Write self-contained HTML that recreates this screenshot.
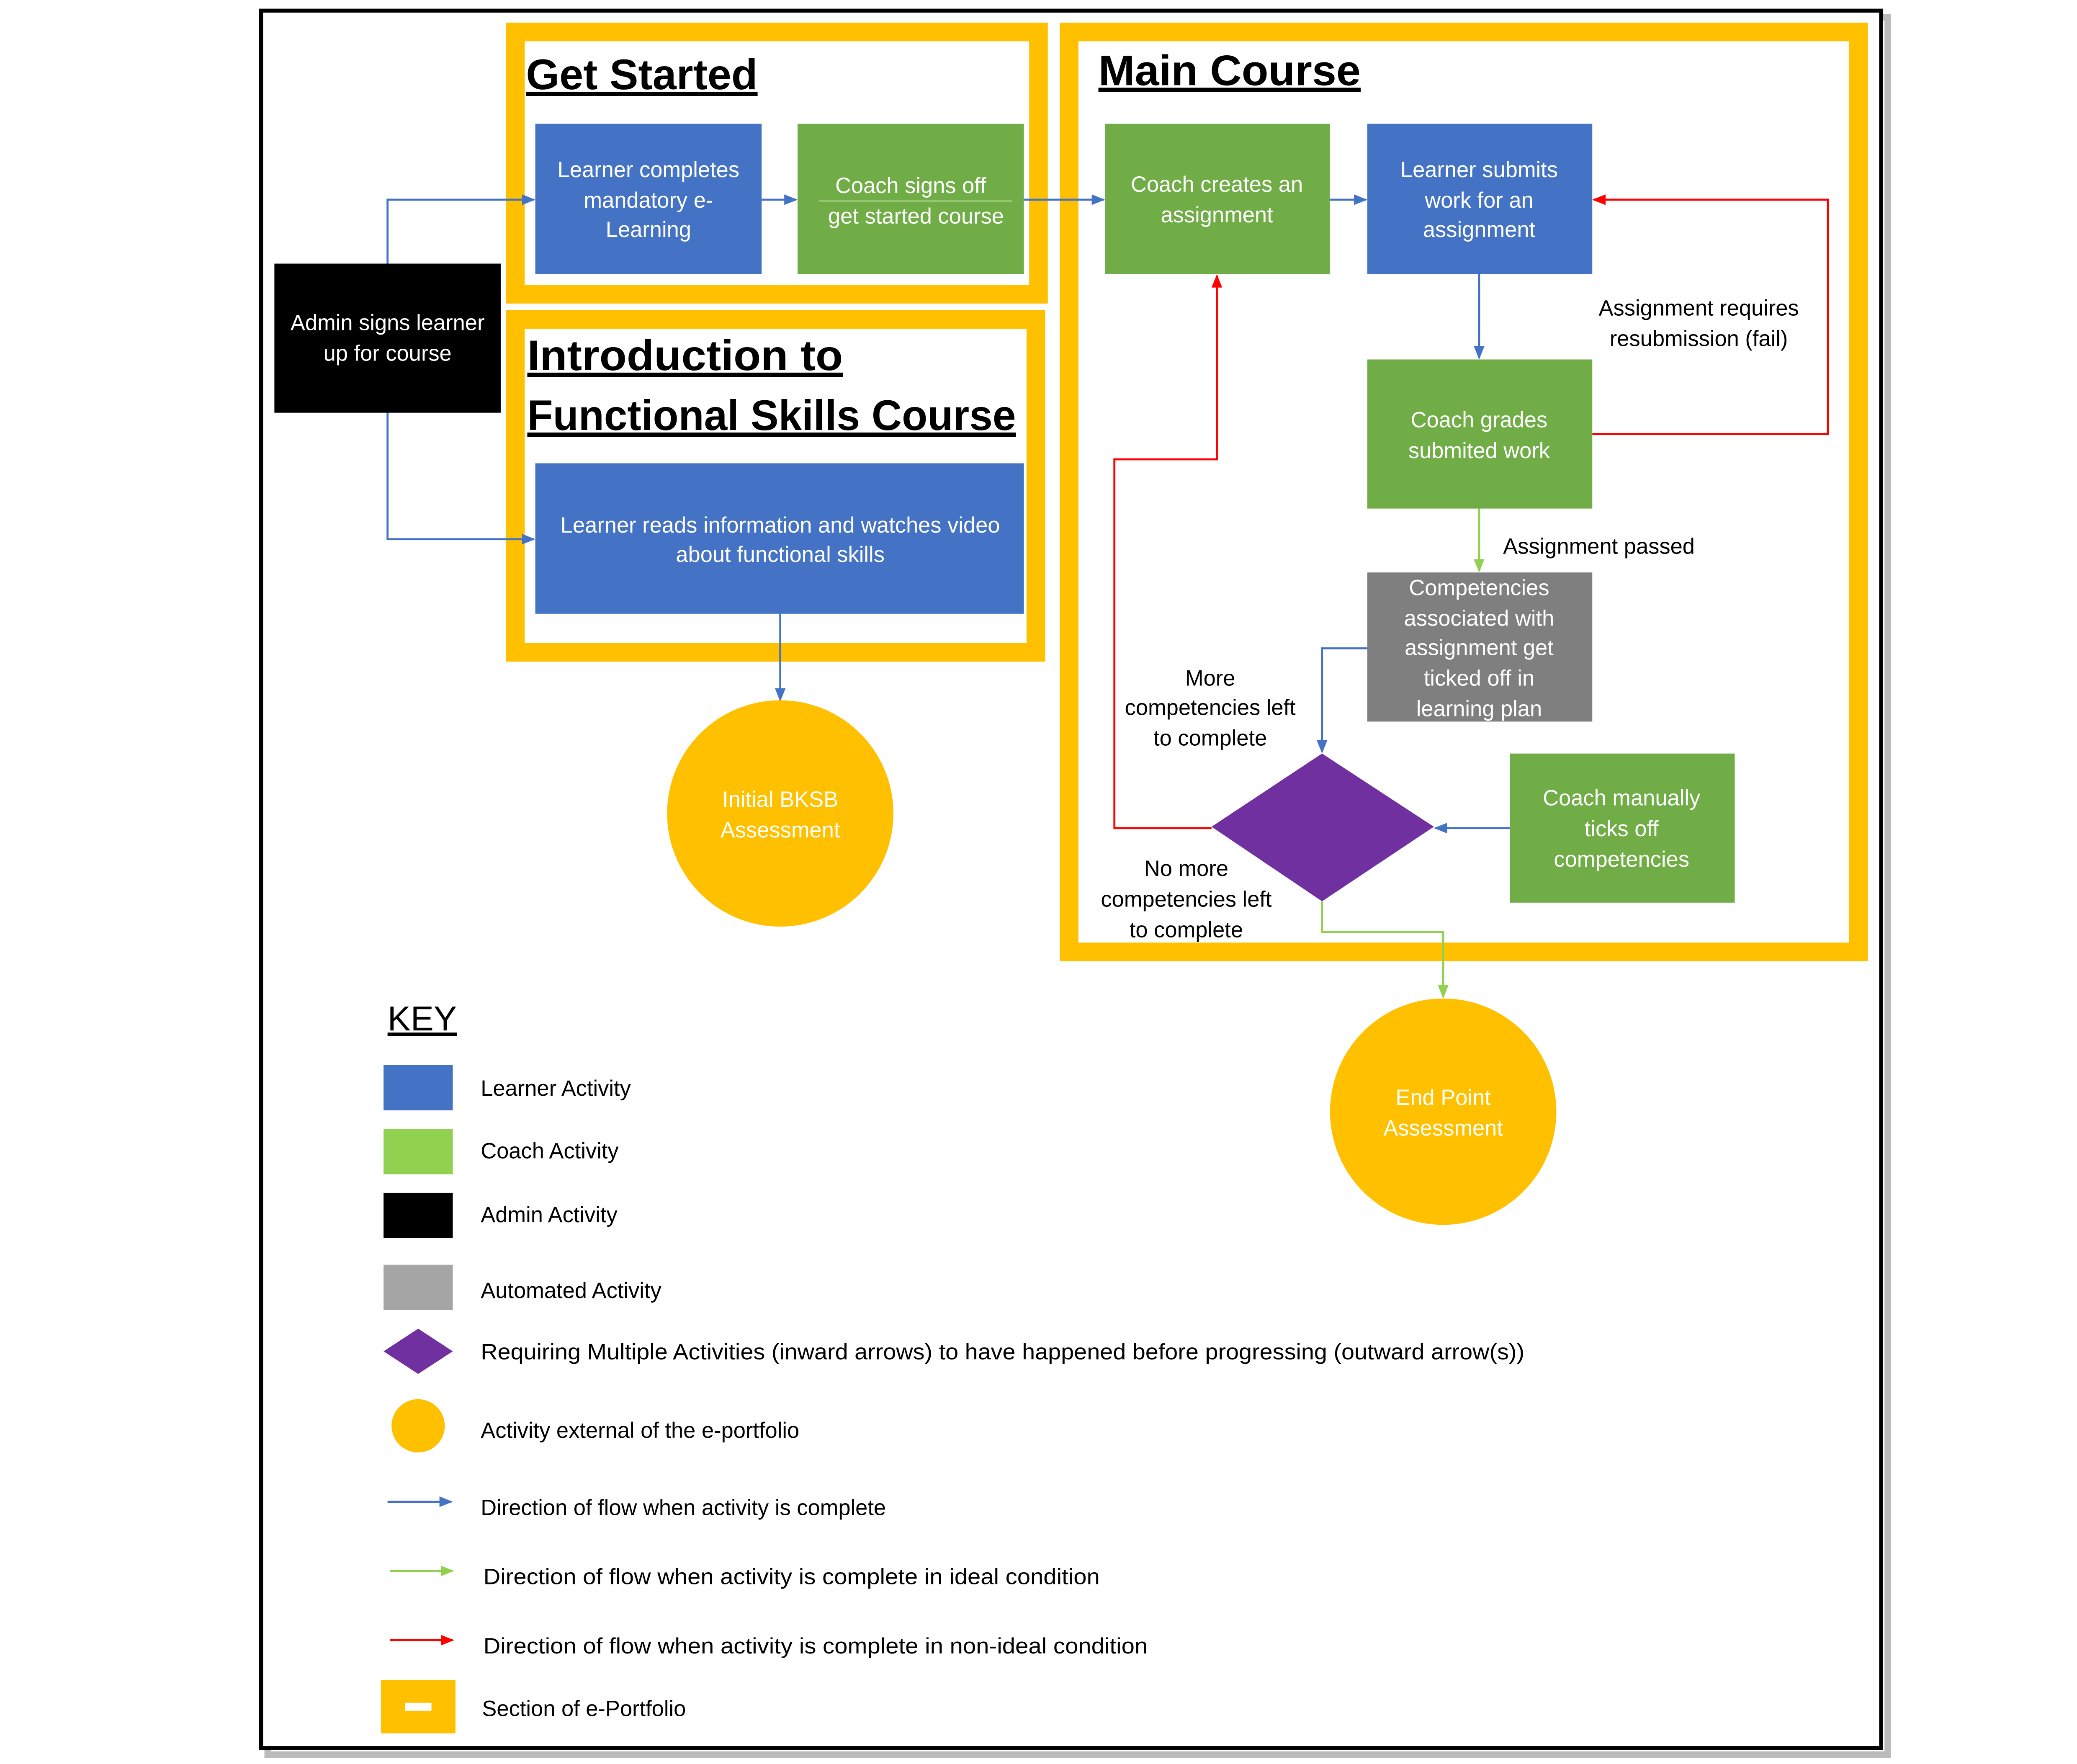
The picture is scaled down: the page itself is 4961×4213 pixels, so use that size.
<!DOCTYPE html>
<html><head><meta charset="utf-8"><style>
html,body{margin:0;padding:0;background:#fff;width:4961px;height:4213px;overflow:hidden}
svg{display:block}
text{font-family:"Liberation Sans",sans-serif}
.w{fill:#fff;font-size:16.5px}
.k{fill:#000;font-size:16.5px}
.t{fill:#000;font-size:32px;font-weight:bold;text-decoration:underline}
</style></head><body>
<svg width="4961" height="4213" viewBox="0 0 1560 1325" xmlns="http://www.w3.org/2000/svg">
<defs>
<marker id="ab" markerWidth="10" markerHeight="10" refX="9" refY="5" orient="auto" markerUnits="userSpaceOnUse"><path d="M0,1 L10,5 L0,9 z" fill="#4472C4"/></marker>
<marker id="ag" markerWidth="10" markerHeight="10" refX="9" refY="5" orient="auto" markerUnits="userSpaceOnUse"><path d="M0,1 L10,5 L0,9 z" fill="#92D050"/></marker>
<marker id="ar" markerWidth="10" markerHeight="10" refX="9" refY="5" orient="auto" markerUnits="userSpaceOnUse"><path d="M0,1 L10,5 L0,9 z" fill="#FF0000"/></marker>
</defs>
<rect width="1560" height="1325" fill="#fff"/>
<rect x="201" y="13" width="1217" height="1305" fill="none" stroke="#bbb" stroke-width="5"/>
<rect x="196" y="8" width="1217" height="1305" fill="#fff" stroke="#000" stroke-width="3"/>
<rect x="387" y="24" width="393" height="197" fill="#fff" stroke="#FFC000" stroke-width="14"/>
<rect x="387" y="240" width="391" height="250" fill="#fff" stroke="#FFC000" stroke-width="14"/>
<rect x="803" y="24" width="593" height="691" fill="#fff" stroke="#FFC000" stroke-width="14"/>
<text x="395" y="67" class="t" textLength="174" lengthAdjust="spacingAndGlyphs">Get Started</text>
<text x="825" y="64" class="t" textLength="197" lengthAdjust="spacingAndGlyphs">Main Course</text>
<text x="396" y="278" class="t" textLength="237" lengthAdjust="spacingAndGlyphs">Introduction to</text>
<text x="396" y="323" class="t" textLength="367" lengthAdjust="spacingAndGlyphs">Functional Skills Course</text>
<g fill="none" stroke-width="1.5">
<path d="M291,198 V150 H401" stroke="#4472C4" marker-end="url(#ab)"/>
<path d="M291,310 V405 H401" stroke="#4472C4" marker-end="url(#ab)"/>
<path d="M572,150 H598" stroke="#4472C4" marker-end="url(#ab)"/>
<path d="M769,150 H829" stroke="#4472C4" marker-end="url(#ab)"/>
<path d="M999,150 H1026" stroke="#4472C4" marker-end="url(#ab)"/>
<path d="M1111,206 V269" stroke="#4472C4" marker-end="url(#ab)"/>
<path d="M1196,326 H1373 V150 H1197" stroke="#FF0000" marker-end="url(#ar)"/>
<path d="M1111,382 V429" stroke="#92D050" marker-end="url(#ag)"/>
<path d="M1027,487 H993 V565" stroke="#4472C4" marker-end="url(#ab)"/>
<path d="M1134,622 H1078" stroke="#4472C4" marker-end="url(#ab)"/>
<path d="M910,622 H837 V345 H914 V207" stroke="#FF0000" marker-end="url(#ar)"/>
<path d="M993,677 V700 H1084 V749" stroke="#92D050" marker-end="url(#ag)"/>
<path d="M586,461 V526" stroke="#4472C4" marker-end="url(#ab)"/>
</g>
<rect x="402" y="93" width="170" height="113" fill="#4472C4"/>
<text class="w" text-anchor="middle"><tspan x="487" y="133">Learner completes</tspan><tspan x="487" y="156">mandatory e-</tspan><tspan x="487" y="178">Learning</tspan></text>
<rect x="599" y="93" width="170" height="113" fill="#70AD47"/>
<text class="w" text-anchor="middle"><tspan x="684" y="145">Coach signs off</tspan><tspan x="688" y="168">get started course</tspan></text>
<line x1="615" y1="151" x2="760" y2="151" stroke="#9fd07f" stroke-width="1"/>
<rect x="206" y="198" width="170" height="112" fill="#000"/>
<text class="w" text-anchor="middle"><tspan x="291" y="248">Admin signs learner</tspan><tspan x="291" y="271">up for course</tspan></text>
<rect x="402" y="348" width="367" height="113" fill="#4472C4"/>
<text class="w" text-anchor="middle"><tspan x="586" y="400">Learner reads information and watches video</tspan><tspan x="586" y="422">about functional skills</tspan></text>
<rect x="830" y="93" width="169" height="113" fill="#70AD47"/>
<text class="w" text-anchor="middle"><tspan x="914" y="144">Coach creates an</tspan><tspan x="914" y="167">assignment</tspan></text>
<rect x="1027" y="93" width="169" height="113" fill="#4472C4"/>
<text class="w" text-anchor="middle"><tspan x="1111" y="133">Learner submits</tspan><tspan x="1111" y="156">work for an</tspan><tspan x="1111" y="178">assignment</tspan></text>
<rect x="1027" y="270" width="169" height="112" fill="#70AD47"/>
<text class="w" text-anchor="middle"><tspan x="1111" y="321">Coach grades</tspan><tspan x="1111" y="344">submited work</tspan></text>
<rect x="1027" y="430" width="169" height="112" fill="#7F7F7F"/>
<text class="w" text-anchor="middle"><tspan x="1111" y="447">Competencies</tspan><tspan x="1111" y="470">associated with</tspan><tspan x="1111" y="492">assignment get</tspan><tspan x="1111" y="515">ticked off in</tspan><tspan x="1111" y="538">learning plan</tspan></text>
<polygon points="910,621 993,566 1077,621 993,677" fill="#7030A0"/>
<rect x="1134" y="566" width="169" height="112" fill="#70AD47"/>
<text class="w" text-anchor="middle"><tspan x="1218" y="605">Coach manually</tspan><tspan x="1218" y="628">ticks off</tspan><tspan x="1218" y="651">competencies</tspan></text>
<circle cx="586" cy="611" r="85" fill="#FFC000"/>
<text class="w" text-anchor="middle"><tspan x="586" y="606">Initial BKSB</tspan><tspan x="586" y="629">Assessment</tspan></text>
<circle cx="1084" cy="835" r="85" fill="#FFC000"/>
<text class="w" text-anchor="middle"><tspan x="1084" y="830">End Point</tspan><tspan x="1084" y="853">Assessment</tspan></text>
<text class="k" text-anchor="middle"><tspan x="1276" y="237">Assignment requires</tspan><tspan x="1276" y="260">resubmission (fail)</tspan></text>
<text class="k" x="1129" y="416">Assignment passed</text>
<text class="k" text-anchor="middle"><tspan x="909" y="515">More</tspan><tspan x="909" y="537">competencies left</tspan><tspan x="909" y="560">to complete</tspan></text>
<text class="k" text-anchor="middle"><tspan x="891" y="658">No more</tspan><tspan x="891" y="681">competencies left</tspan><tspan x="891" y="704">to complete</tspan></text>
<text x="291" y="774" style="font-size:26px;text-decoration:underline" fill="#000">KEY</text>
<rect x="288" y="800" width="52" height="34" fill="#4472C4"/>
<rect x="288" y="848" width="52" height="34" fill="#92D050"/>
<rect x="288" y="896" width="52" height="34" fill="#000"/>
<rect x="288" y="950" width="52" height="34" fill="#A5A5A5"/>
<polygon points="288,1015 314,998 340,1015 314,1032" fill="#7030A0"/>
<circle cx="314" cy="1071" r="20" fill="#FFC000"/>
<line x1="291" y1="1128" x2="339" y2="1128" stroke="#4472C4" stroke-width="1.5" marker-end="url(#ab)"/>
<line x1="293" y1="1180" x2="340" y2="1180" stroke="#92D050" stroke-width="1.5" marker-end="url(#ag)"/>
<line x1="293" y1="1232" x2="340" y2="1232" stroke="#FF0000" stroke-width="1.5" marker-end="url(#ar)"/>
<rect x="286" y="1262" width="56" height="40" fill="#FFC000"/>
<rect x="304" y="1279" width="20" height="6" fill="#fff"/>
<text class="k" x="361" y="823">Learner Activity</text>
<text class="k" x="361" y="870">Coach Activity</text>
<text class="k" x="361" y="918">Admin Activity</text>
<text class="k" x="361" y="975">Automated Activity</text>
<text class="k" x="361" y="1021" textLength="784" lengthAdjust="spacingAndGlyphs">Requiring Multiple Activities (inward arrows) to have happened before progressing (outward arrow(s))</text>
<text class="k" x="361" y="1080">Activity external of the e-portfolio</text>
<text class="k" x="361" y="1138">Direction of flow when activity is complete</text>
<text class="k" x="363" y="1190" textLength="463" lengthAdjust="spacingAndGlyphs">Direction of flow when activity is complete in ideal condition</text>
<text class="k" x="363" y="1242" textLength="499" lengthAdjust="spacingAndGlyphs">Direction of flow when activity is complete in non-ideal condition</text>
<text class="k" x="362" y="1289">Section of e-Portfolio</text>
</svg>
</body></html>
